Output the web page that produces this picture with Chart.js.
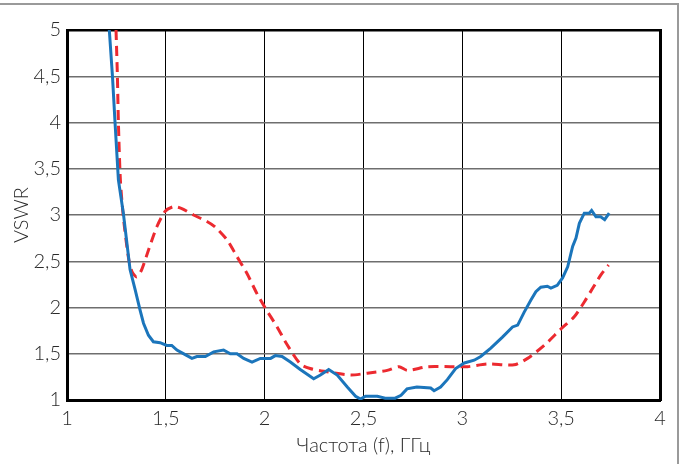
<!DOCTYPE html>
<html>
<head>
<meta charset="utf-8">
<script src="https://cdn.jsdelivr.net/npm/chart.js@4/dist/chart.umd.min.js"></script>
<style>
  html, body { margin: 0; padding: 0; background: #fff; }
  #wrap { position: relative; width: 684px; height: 464px; overflow: hidden; }
  #frame {
    position: absolute; left: 0; top: 3px; width: 677px; height: 470px;
    border-top: 2px solid #9a9a9a; border-right: 2px solid #9a9a9a;
  }
  #swr-chart { position: absolute; left: 0; top: 0; }
</style>
</head>
<body>
<div id="wrap">
  <div id="frame"></div>
  <canvas id="swr-chart" width="684" height="464"></canvas>
</div>
<script>
// Measured curve (solid blue)
const measFreq = [1.214, 1.23, 1.243, 1.26, 1.285, 1.319, 1.345, 1.37, 1.387, 1.412,
    1.437, 1.471, 1.505, 1.53, 1.556, 1.598, 1.632, 1.657, 1.70, 1.742,
    1.792, 1.826, 1.86, 1.894, 1.936, 1.978, 2.03, 2.054, 2.088, 2.13,
    2.18, 2.248, 2.282, 2.324, 2.367, 2.418, 2.46, 2.485, 2.51, 2.57,
    2.61, 2.66, 2.69, 2.72, 2.77, 2.84, 2.857, 2.89, 2.924, 2.966,
    3.01, 3.06, 3.093, 3.144, 3.203, 3.254, 3.28, 3.313, 3.347, 3.372,
    3.397, 3.43, 3.448, 3.48, 3.507, 3.533, 3.558, 3.575, 3.592, 3.617,
    3.642, 3.654, 3.676, 3.70, 3.72, 3.743];
const measVswr = [5.0, 4.5, 4.0, 3.38, 3.02, 2.41, 2.19, 1.97, 1.83, 1.70,
    1.63, 1.62, 1.59, 1.59, 1.54, 1.49, 1.45, 1.47, 1.47, 1.52,
    1.54, 1.50, 1.50, 1.45, 1.41, 1.45, 1.45, 1.48, 1.47, 1.41,
    1.33, 1.23, 1.27, 1.33, 1.27, 1.14, 1.04, 1.01, 1.04, 1.04,
    1.02, 1.02, 1.05, 1.12, 1.14, 1.13, 1.10, 1.14, 1.22, 1.34,
    1.40, 1.43, 1.47, 1.56, 1.68, 1.79, 1.81, 1.95, 2.08, 2.17,
    2.22, 2.23, 2.21, 2.24, 2.32, 2.44, 2.66, 2.75, 2.91, 3.02,
    3.02, 3.05, 2.98, 2.98, 2.95, 3.02];

// Simulated curve (dashed red)
const simFreq = [1.248, 1.255, 1.26, 1.27, 1.285, 1.31, 1.328, 1.353, 1.378, 1.412,
    1.454, 1.497, 1.539, 1.581, 1.64, 1.708, 1.75, 1.81, 1.86, 1.91,
    1.961, 2.004, 2.063, 2.11, 2.18, 2.23, 2.30, 2.434, 2.519, 2.62,
    2.68, 2.722, 2.823, 2.94, 3.026, 3.127, 3.262, 3.33, 3.414, 3.50,
    3.566, 3.617, 3.66, 3.70, 3.74];
const simVswr = [5.0, 4.5, 4.0, 3.38, 2.98, 2.55, 2.39, 2.33, 2.41, 2.62,
    2.87, 3.04, 3.09, 3.07, 3.00, 2.93, 2.87, 2.73, 2.55, 2.37,
    2.15, 1.99, 1.79, 1.61, 1.39, 1.34, 1.31, 1.27, 1.29, 1.32,
    1.36, 1.32, 1.36, 1.36, 1.36, 1.39, 1.38, 1.45, 1.59, 1.77,
    1.90, 2.06, 2.21, 2.35, 2.46];

const xMin = 1, xMax = 4, yMin = 1, yMax = 5, step = 0.5;
const xTitle = 'Частота (f), ГГц';
const yTitle = 'VSWR';

const toPoints = (xs, ys) => xs.map((x, i) => ({ x: x, y: ys[i] }));
const commaFmt = v => String(v).replace('.', ',');

const labelFont = { family: 'Lato, "Liberation Sans", sans-serif', size: 20, weight: 300 };
const textColor = '#2a2a2a';

const ctx = document.getElementById('swr-chart').getContext('2d');
const chart = new Chart(ctx, {
    type: 'line',
    data: {
        datasets: [{
            data: toPoints(measFreq, measVswr),
            borderColor: '#1b75bb',
            borderWidth: 3,
            pointRadius: 0,
            tension: 0,
            fill: false
        }, {
            data: toPoints(simFreq, simVswr),
            borderColor: '#ec2a30',
            borderWidth: 3,
            borderDash: [10, 6],
            pointRadius: 0,
            tension: 0.25,
            fill: false
        }]
    },
    options: {
        responsive: false,
        animation: false,
        layout: { padding: { top: 30, right: 24, left: 0, bottom: 0 } },
        plugins: {
            legend: { display: false },
            tooltip: { enabled: false }
        },
        scales: {
            x: {
                type: 'linear',
                min: xMin,
                max: xMax,
                afterFit: s => { s.height = 64; },
                ticks: {
                    stepSize: step,
                    color: textColor,
                    font: labelFont,
                    padding: 7,
                    maxRotation: 0,
                    callback: commaFmt
                },
                grid: { color: '#000', lineWidth: 1, drawTicks: false },
                border: { color: '#000', width: 3 },
                title: {
                    display: true,
                    text: xTitle,
                    color: textColor,
                    font: labelFont,
                    padding: { top: 0, bottom: 6 }
                }
            },
            y: {
                min: yMin,
                max: yMax,
                afterFit: s => { s.width = 67; },
                ticks: {
                    stepSize: step,
                    color: textColor,
                    font: labelFont,
                    padding: 6,
                    callback: commaFmt
                },
                grid: { color: '#6e6e6e', lineWidth: 1.5, drawTicks: false },
                border: { color: '#000', width: 3 },
                title: {
                    display: true,
                    text: yTitle,
                    color: textColor,
                    font: labelFont,
                    padding: { top: 10, bottom: 0 }
                }
            },
            xTop: {
                type: 'linear',
                position: 'top',
                min: xMin,
                max: xMax,
                afterFit: s => { s.height = 0; },
                ticks: { display: false },
                grid: { display: false },
                border: { color: '#000', width: 2.5 }
            },
            yRight: {
                position: 'right',
                min: yMin,
                max: yMax,
                afterFit: s => { s.width = 0; },
                ticks: { display: false },
                grid: { display: false },
                border: { color: '#000', width: 3 }
            }
        }
    }
});
</script>
</body>
</html>
